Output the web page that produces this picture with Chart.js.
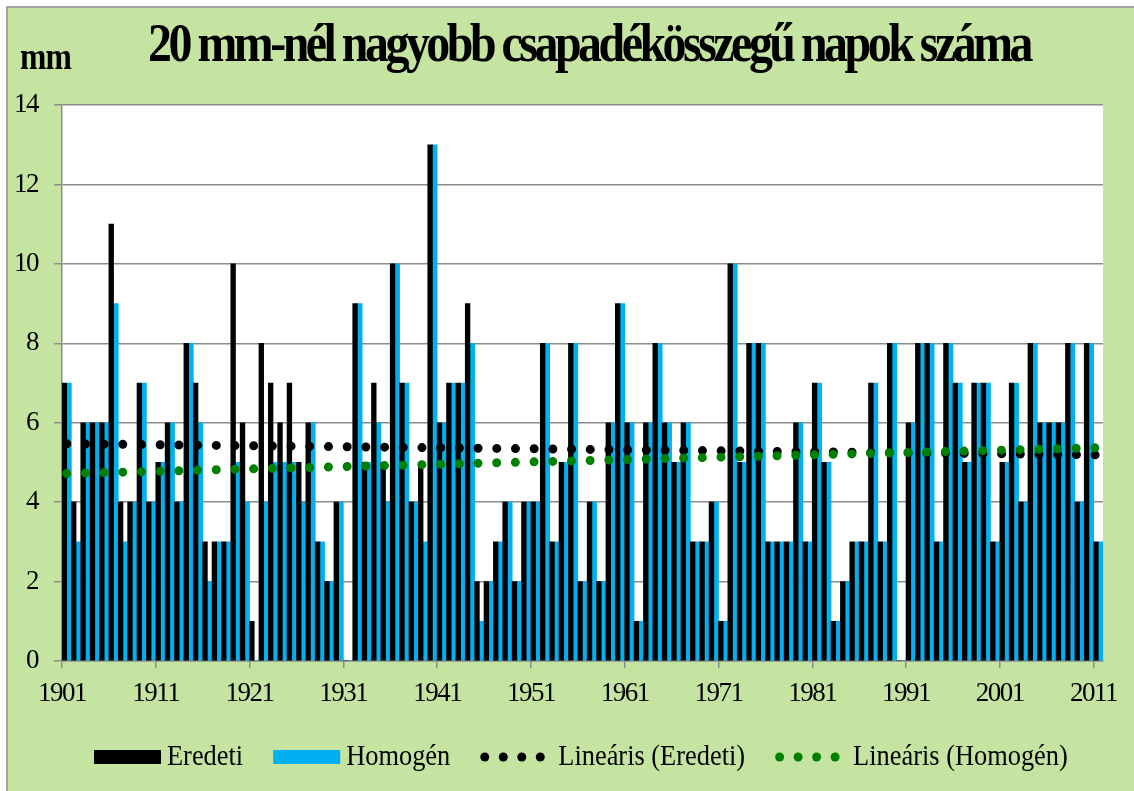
<!DOCTYPE html>
<html lang="hu">
<head>
<meta charset="utf-8">
<title>20 mm-nél nagyobb csapadékösszegű napok száma</title>
<script src="https://cdn.jsdelivr.net/npm/chart.js@4.4.1/dist/chart.umd.min.js"></script>
<style>
  html, body { margin: 0; padding: 0; background: #fff; }
  canvas { display: block; }
</style>
</head>
<body>
<canvas id="chart" width="1134" height="791"></canvas>
<script>
// years on the category axis
const years = [
  '1901', '1902', '1903', '1904', '1905', '1906', '1907', '1908', '1909', '1910',
  '1911', '1912', '1913', '1914', '1915', '1916', '1917', '1918', '1919', '1920',
  '1921', '1922', '1923', '1924', '1925', '1926', '1927', '1928', '1929', '1930',
  '1931', '1932', '1933', '1934', '1935', '1936', '1937', '1938', '1939', '1940',
  '1941', '1942', '1943', '1944', '1945', '1946', '1947', '1948', '1949', '1950',
  '1951', '1952', '1953', '1954', '1955', '1956', '1957', '1958', '1959', '1960',
  '1961', '1962', '1963', '1964', '1965', '1966', '1967', '1968', '1969', '1970',
  '1971', '1972', '1973', '1974', '1975', '1976', '1977', '1978', '1979', '1980',
  '1981', '1982', '1983', '1984', '1985', '1986', '1987', '1988', '1989', '1990',
  '1991', '1992', '1993', '1994', '1995', '1996', '1997', '1998', '1999', '2000',
  '2001', '2002', '2003', '2004', '2005', '2006', '2007', '2008', '2009', '2010',
  '2011'
];

// years that get a label and a tick mark
const tickYears = ['1901', '1911', '1921', '1931', '1941', '1951', '1961', '1971', '1981', '1991', '2001', '2011'];

// number of days per year, original series
const eredeti = [
  7, 4, 6, 6, 6, 11, 4, 4, 7, 4,
  5, 6, 4, 8, 7, 3, 3, 3, 10, 6,
  1, 8, 7, 6, 7, 5, 6, 3, 2, 4,
  0, 9, 5, 7, 5, 10, 7, 4, 5, 13,
  6, 7, 7, 9, 2, 2, 3, 4, 2, 4,
  4, 8, 3, 5, 8, 2, 4, 2, 6, 9,
  6, 1, 6, 8, 6, 5, 6, 3, 3, 4,
  1, 10, 5, 8, 8, 3, 3, 3, 6, 3,
  7, 5, 1, 2, 3, 3, 7, 3, 8, 0,
  6, 8, 8, 3, 8, 7, 5, 7, 7, 3,
  5, 7, 4, 8, 6, 6, 6, 8, 4, 8,
  3
];

// number of days per year, homogenized series
const homogen = [
  7, 3, 6, 6, 6, 9, 3, 4, 7, 4,
  5, 6, 4, 8, 6, 2, 3, 3, 5, 4,
  0, 4, 5, 5, 5, 4, 6, 3, 2, 4,
  0, 9, 5, 6, 4, 10, 7, 4, 3, 13,
  6, 7, 7, 8, 1, 2, 3, 4, 2, 4,
  4, 8, 3, 5, 8, 2, 4, 2, 6, 9,
  6, 1, 6, 8, 6, 5, 6, 3, 3, 4,
  1, 10, 5, 8, 8, 3, 3, 3, 6, 3,
  7, 5, 1, 2, 3, 3, 7, 3, 8, 0,
  6, 8, 8, 3, 8, 7, 5, 7, 7, 3,
  5, 7, 4, 8, 6, 6, 6, 8, 4, 8,
  3
];

// linear trend values at the first and last year
const trendEredeti = [5.47, 5.19];
const trendHomogen = [4.72, 5.37];

const yTicks = [0, 2, 4, 6, 8, 10, 12, 14];

const serif = "'Liberation Serif', 'Times New Roman', serif";
const gridGray = '#8c8c8c';
const bgGreen = '#c5e4a1';

function trendPoints(ends) {
  return [
    { x: years[0], y: ends[0] },
    { x: years[years.length - 1], y: ends[1] }
  ];
}

// draws text squeezed to a given width
function fitText(ctx, text, x, y, width) {
  const w = ctx.measureText(text).width;
  ctx.save();
  ctx.translate(x, y);
  ctx.scale(width / w, 1);
  ctx.fillText(text, 0, 0);
  ctx.restore();
}

// narrow serif text everywhere
const narrowText = {
  id: 'narrowText',
  beforeUpdate(chart) { chart.ctx.letterSpacing = '-1.5px'; },
  beforeDraw(chart) { chart.ctx.letterSpacing = '-1.5px'; }
};

// green panel with white plot area
const panel = {
  id: 'panel',
  beforeDraw(chart) {
    const { ctx, width, height, chartArea: a } = chart;
    ctx.save();
    ctx.fillStyle = '#fff';
    ctx.fillRect(0, 0, width, height);
    ctx.fillStyle = bgGreen;
    ctx.fillRect(7, 7, width - 7, height - 7);
    ctx.strokeStyle = gridGray;
    ctx.lineWidth = 1.5;
    ctx.beginPath();
    ctx.moveTo(7, height);
    ctx.lineTo(7, 7);
    ctx.lineTo(width, 7);
    ctx.stroke();
    ctx.fillStyle = '#fff';
    ctx.fillRect(a.left, a.top, a.right - a.left, a.bottom - a.top);
    ctx.restore();
  }
};

// title, unit label and legend
const texts = {
  id: 'texts',
  afterDraw(chart) {
    const ctx = chart.ctx;
    ctx.save();
    ctx.fillStyle = '#000';
    ctx.textAlign = 'left';
    ctx.textBaseline = 'alphabetic';

    ctx.letterSpacing = '-4px';
    ctx.font = 'bold 55px ' + serif;
    fitText(ctx, '20 mm-nél nagyobb csapadékösszegű napok száma', 148, 61, 882);

    ctx.letterSpacing = '-1px';
    ctx.font = 'bold 37px ' + serif;
    fitText(ctx, 'mm', 20, 69, 51);

    // legend
    ctx.letterSpacing = '0px';
    ctx.font = '29px ' + serif;
    ctx.textBaseline = 'middle';
    const ly = 757;
    let x = 94;
    chart.data.datasets.forEach(ds => {
      const color = ds.type === 'line' ? ds.borderColor : ds.backgroundColor;
      ctx.fillStyle = color;
      if (ds.type === 'line') {
        for (let k = 0; k < 4; k++) {
          ctx.beginPath();
          ctx.arc(x + 4.5 + k * 18.5, ly, 4.5, 0, Math.PI * 2);
          ctx.fill();
        }
        x += 78;
      } else {
        ctx.fillRect(x, ly - 7, 67, 14);
        x += 73;
      }
      ctx.fillStyle = '#000';
      const w = ctx.measureText(ds.label).width * 0.91;
      fitText(ctx, ds.label, x, ly, w);
      x += w + 30;
    });
    ctx.restore();
  }
};

const ctx = document.getElementById('chart').getContext('2d');
const chart = new Chart(ctx, {
  type: 'bar',
  data: {
    labels: years,
    datasets: [
      {
        label: 'Eredeti',
        data: eredeti,
        backgroundColor: '#000000',
        barPercentage: 1,
        categoryPercentage: 1,
        order: 3
      },
      {
        label: 'Homogén',
        data: homogen,
        backgroundColor: '#00b0f0',
        barPercentage: 1,
        categoryPercentage: 1,
        order: 3
      },
      {
        type: 'line',
        label: 'Lineáris (Eredeti)',
        data: trendPoints(trendEredeti),
        borderColor: '#000000',
        borderWidth: 9,
        borderDash: [0, 18.7],
        borderCapStyle: 'round',
        pointRadius: 0,
        fill: false,
        order: 2
      },
      {
        type: 'line',
        label: 'Lineáris (Homogén)',
        data: trendPoints(trendHomogen),
        borderColor: '#008000',
        borderWidth: 9,
        borderDash: [0, 18.7],
        borderCapStyle: 'round',
        pointRadius: 0,
        fill: false,
        order: 1
      }
    ]
  },
  options: {
    responsive: false,
    animation: false,
    devicePixelRatio: 1,
    layout: { padding: { left: 0, top: 105, right: 31, bottom: 90 } },
    plugins: {
      legend: { display: false },
      title: { display: false },
      tooltip: { enabled: false }
    },
    scales: {
      x: {
        offset: true,
        grid: {
          offset: true,
          drawOnChartArea: false,
          drawTicks: true,
          tickLength: 7,
          lineWidth: 1.5,
          color: c => (c.index % 10 === 0 && c.index < years.length) ? gridGray : 'rgba(0,0,0,0)'
        },
        border: { color: gridGray, width: 1.5 },
        ticks: {
          autoSkip: false,
          maxRotation: 0,
          minRotation: 0,
          padding: 10,
          labelOffset: -4.69,
          color: '#000',
          font: { family: serif, size: 27 },
          callback(value) {
            const year = this.getLabelForValue(value);
            return tickYears.includes(year) ? year : '';
          }
        },
        afterFit(scale) { scale.height = 40; }
      },
      y: {
        min: yTicks[0],
        max: yTicks[yTicks.length - 1],
        afterBuildTicks(scale) { scale.ticks = yTicks.map(v => ({ value: v })); },
        grid: { color: gridGray, lineWidth: 1.5, tickLength: 8 },
        border: { color: gridGray, width: 1.5 },
        ticks: {
          padding: 16,
          color: '#000',
          font: { family: serif, size: 27 }
        },
        afterFit(scale) { scale.width = 62; }
      }
    }
  },
  plugins: [narrowText, panel, texts]
});
</script>
</body>
</html>
